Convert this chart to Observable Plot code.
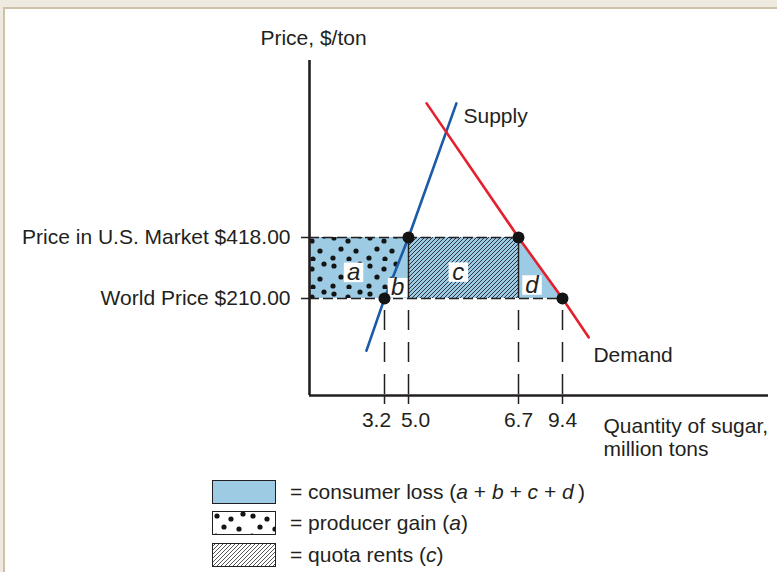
<!DOCTYPE html>
<html><head><meta charset="utf-8">
<script src="https://cdn.jsdelivr.net/npm/d3@7"></script>
<script src="https://cdn.jsdelivr.net/npm/@observablehq/plot@0.6"></script>
<style>
html,body{margin:0;padding:0;background:#efeae0;width:777px;height:572px;overflow:hidden;font-family:"Liberation Sans",Arial,Helvetica,sans-serif;color:#231f20;}
#panel{position:absolute;left:3px;top:7px;width:772px;height:563px;border-left:2px solid #cdc1aa;border-top:2px solid #cdc1aa;background:#fff;}
#chart svg{display:block}
#legend{position:absolute;left:0;top:462px;width:772px;height:101px;}
.row{position:absolute;left:207px;height:24px;display:flex;align-items:center;font-size:21px;white-space:nowrap;line-height:24px}
.row svg{display:block;margin-right:14px}
</style>
</head><body>
<div id="panel"><div id="chart"></div><div id="legend"></div></div>
<script>
// ---- data ----
const quantityTicks = [3.2, 5.0, 6.7, 9.4];           // million tons
const priceTicks = [210, 418];                          // $/ton
const priceTickLabels = ["World Price $210.00", "Price in U.S. Market $418.00"];
const supplyQ = [2.43, 3.2, 5.0, 5.74];
const supplyP = [97, 210, 418, 859];
const demandQ = [5.28, 6.7, 9.4, 9.73];
const demandP = [859, 418, 210, 126];
const areaLetters = ["a", "b", "c", "d"];
const areaLetterQ = [1.88, 4.18, 5.77, 7.53];
const areaLetterP = [299, 247, 300, 256];
const curveNames = ["Supply", "Demand"];
const curveNameQ = [5.85, 9.79];
const curveNameP = [816, 87];
const yTitle = "Price, $/ton";
const xTitle = "Quantity of sugar,\nmillion tons";
const legendLabels = [
  '= consumer loss (<i>a</i> + <i>b</i> + <i>c</i> + <i>d</i>\u2009)',
  '= producer gain (<i>a</i>)',
  '= quota rents (<i>c</i>)'
];

// ---- derived tables ----
const worldP = priceTicks[0], usP = priceTicks[1];
const [qsWorld, qsUS, qdUS, qdWorld] = quantityTicks;
const supply = supplyQ.map((q, i) => ({q, p: supplyP[i]}));
const demand = demandQ.map((q, i) => ({q, p: demandP[i]}));
const lossArea = [{p: worldP, q: qdWorld}, {p: usP, q: qdUS}];
const gainArea = [{p: worldP, q: qsWorld}, {p: usP, q: qsUS}];
const rentRect = [{q1: qsUS, q2: qdUS, p1: worldP, p2: usP}];
const priceLines = [{p: usP, q: qdUS}, {p: worldP, q: qdWorld}];
const eqPoints = [{q: qsWorld, p: worldP}, {q: qsUS, p: usP}, {q: qdUS, p: usP}, {q: qdWorld, p: worldP}];
const letters = areaLetters.map((t, i) => ({t, q: areaLetterQ[i], p: areaLetterP[i]}));
const names = curveNames.map((t, i) => ({t, q: curveNameQ[i], p: curveNameP[i]}));
const fmt = d => d.toFixed(1);

const BLUE = "#9dcbe3", INK = "#231f20";

const chart = Plot.plot({
  width: 772, height: 462,
  marginLeft: 304, marginRight: 9, marginTop: 51, marginBottom: 76,
  style: {fontFamily: '"Liberation Sans", Arial, sans-serif', fontSize: "21px", color: INK, background: "transparent", overflow: "visible"},
  x: {type: "linear", domain: [0, 3.2, 5.0, 6.7, 9.4, 12], range: [304, 379, 403, 513, 557, 763]},
  y: {type: "linear", domain: [0, 210, 418, 1000], range: [386, 289, 228, 51]},
  marks: [
    Plot.areaX(lossArea, {y: "p", x1: 0, x2: "q", fill: BLUE}),
    Plot.areaX(gainArea, {y: "p", x1: 0, x2: "q", fill: "url(#dotsPat)"}),
    Plot.rect(rentRect, {x1: "q1", x2: "q2", y1: "p1", y2: "p2", fill: "url(#hatchPat)"}),
    Plot.ruleY(priceLines, {y: "p", x1: 0, x2: "q", stroke: INK, strokeWidth: 1.6, strokeDasharray: "10,4"}),
    Plot.ruleX(eqPoints, {x: "q", y1: worldP, y2: 0, stroke: INK, strokeWidth: 1.5, strokeDasharray: "20,12", strokeDashoffset: 20}),
    Plot.ruleX(eqPoints.filter(d => d.p === usP), {x: "q", y1: usP, y2: worldP, stroke: INK, strokeWidth: 1.5}),
    Plot.ruleX([0], {y1: 0, y2: 1000, stroke: INK, strokeWidth: 2.6}),
    Plot.ruleY([0], {x1: 0, x2: 12, stroke: INK, strokeWidth: 2.6}),
    Plot.line(supply, {x: "q", y: "p", stroke: "#1b5aa8", strokeWidth: 2.6}),
    Plot.line(demand, {x: "q", y: "p", stroke: "#e5202e", strokeWidth: 2.6}),
    Plot.dot(letters, {x: "q", y: "p", symbol: "square", r: 11, fill: "white"}),
    Plot.text(letters, {x: "q", y: "p", text: "t", fontStyle: "italic", fontSize: 24, fill: INK}),
    Plot.dot(eqPoints, {x: "q", y: "p", r: 6, fill: "#141414"}),
    Plot.text(names, {x: "q", y: "p", text: "t", textAnchor: "start", fill: INK}),
    Plot.text([yTitle], {text: d => d, frameAnchor: "top-left", dx: 4, dy: -30, textAnchor: "middle", fill: INK}),
    Plot.text([xTitle], {text: d => d, frameAnchor: "bottom-left", dx: 294, dy: 42, textAnchor: "start", lineAnchor: "middle", lineHeight: 1.1, fill: INK}),
    Plot.axisX({ticks: quantityTicks, tickSize: 9, tickFormat: () => "", label: null, strokeWidth: 1.5}),
    Plot.text([quantityTicks[0]], {x: d => d, y: 0, text: fmt, dx: -8, dy: 25, fill: INK}),
    Plot.text([quantityTicks[1]], {x: d => d, y: 0, text: fmt, dx: 7, dy: 25, fill: INK}),
    Plot.text(quantityTicks.slice(2), {x: d => d, y: 0, text: fmt, dy: 25, fill: INK}),
    Plot.axisY({ticks: priceTicks, tickSize: 8, tickPadding: 11, tickFormat: d => priceTickLabels[priceTicks.indexOf(d)], label: null, strokeWidth: 1.5})
  ]
});

function addPatterns(sel, suffix, hatchColor) {
  const defs = sel.insert("defs", ":first-child");
  const dp = defs.append("pattern").attr("id", "dotsPat" + suffix).attr("patternUnits", "userSpaceOnUse")
    .attr("width", 36).attr("height", 28);
  [[5,5],[19,8],[31,3],[12,16],[27,18],[4,25],[20,26]].forEach(([x, y]) =>
    dp.append("circle").attr("cx", x).attr("cy", y).attr("r", 2.6).attr("fill", "#141414"));
  const hp = defs.append("pattern").attr("id", "hatchPat" + suffix).attr("patternUnits", "userSpaceOnUse")
    .attr("width", 4).attr("height", 4);
  hp.append("path").attr("d", "M-1,1 L1,-1 M0,4 L4,0 M3,5 L5,3").attr("stroke", hatchColor).attr("stroke-width", 1);
}
addPatterns(d3.select(chart), "", "#2a3440");
document.getElementById("chart").append(chart);

// legend
const legend = d3.select("#legend");
const tops = [9, 40, 72];
const fills = [BLUE, "url(#dotsPatL)", "url(#hatchPatL)"];
legendLabels.forEach((lab, i) => {
  const row = legend.append("div").attr("class", "row").style("top", tops[i] + "px");
  const s = row.append("svg").attr("width", 64).attr("height", 24);
  if (i === 0) addPatterns(s, "L", "#555");
  if (i > 0) s.append("rect").attr("x", 0.5).attr("y", 0.5).attr("width", 63).attr("height", 23).attr("fill", "white");
  s.append("rect").attr("x", 0.5).attr("y", 0.5).attr("width", 63).attr("height", 23)
    .attr("fill", fills[i]).attr("stroke", INK).attr("stroke-width", 1);
  row.append("span").html(lab);
});
</script>
</body></html>
